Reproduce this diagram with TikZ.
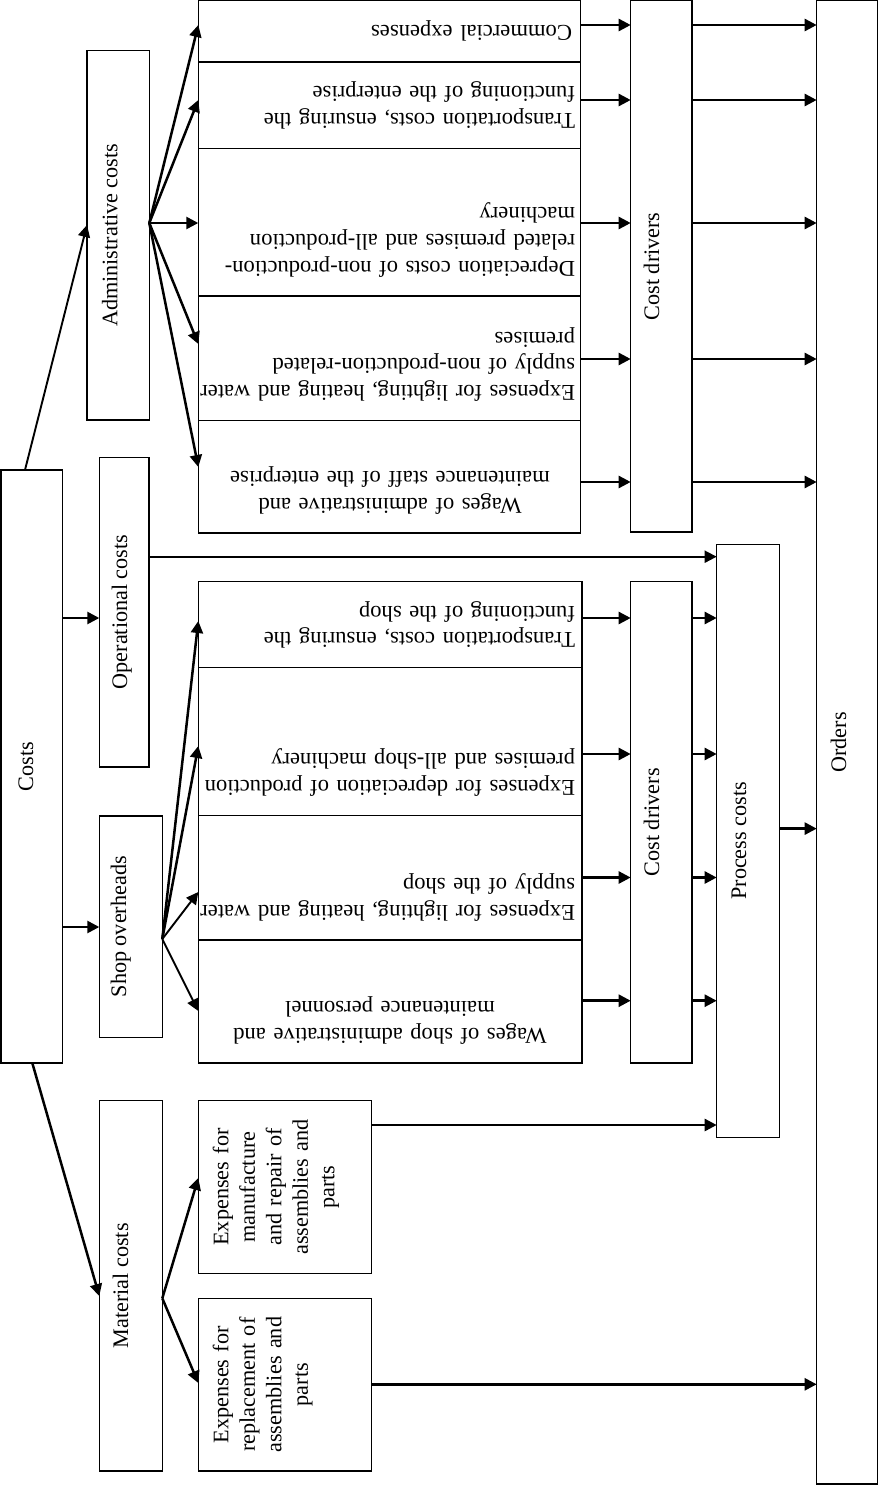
\documentclass[tikz,border=0pt]{standalone}
\usepackage{fontspec}
\setmainfont{Liberation Serif}
\usetikzlibrary{arrows.meta,fit}
\begin{document}
\begin{tikzpicture}[x=1pt,y=-1pt,
  box/.style={draw, line width=1.4pt, inner sep=0pt, outer sep=0pt},
  arr/.style={line width=2.5pt, -{Triangle[length=12pt,width=12pt]}},
  tarr/.style={line width=1.9pt, -{Triangle[length=12pt,width=12pt]}},
  lbl/.style={font=\fontsize{22.2}{26.5}\selectfont, rotate=90, anchor=base, inner sep=0pt},
  vtxt/.style={font=\fontsize{22.2}{26.5}\selectfont, rotate=90, anchor=base, inner sep=0pt, text width=170pt, align=center},
  utxt/.style={font=\fontsize{22.6}{26.7}\selectfont, rotate=180, anchor=base, inner sep=0pt, text width=400pt, align=left},
  ctxt/.style={font=\fontsize{22.6}{26.7}\selectfont, rotate=180, anchor=base, inner sep=0pt, text width=380pt, align=center}
]
\useasboundingbox (0,0) rectangle (879,1485);

% ---- boxes ----
\node[box, fit={(198.3,0.8) (580.7,62)}] (com) {};
\node[box, fit={(198.3,62) (580.7,148.5)}] (tre) {};
\node[box, fit={(198.3,148.5) (580.7,296)}] (dep) {};
\node[box, fit={(198.3,296) (580.7,420.5)}] (lig) {};
\node[box, fit={(198.3,420.5) (580.7,533)}] (wag) {};
\node[box, fit={(630.7,0.8) (692,532)}] (cda) {};
\node[box, fit={(816.7,0.8) (877.7,1484)}] (ord) {};
\node[box, fit={(87,50.6) (149.3,420)}] (adm) {};
\node[box, fit={(99.3,457.3) (149,767)}] (opc) {};
\node[box, fit={(0.8,470) (62.3,1063)}] (cst) {};
\node[box, fit={(99.3,816) (162.3,1037.5)}] (sho) {};
\node[box, fit={(198.3,581.7) (582,667.7)}] (tsh) {};
\node[box, fit={(198.3,667.7) (582,815.5)}] (dsh) {};
\node[box, fit={(198.3,815.5) (582,940)}] (lsh) {};
\node[box, fit={(198.3,940) (582,1063)}] (wsh) {};
\node[box, fit={(630.7,581.7) (692,1063)}] (cdb) {};
\node[box, fit={(716.7,544.3) (779.3,1137.3)}] (prc) {};
\node[box, fit={(99.3,1100.7) (162.3,1471)}] (mat) {};
\node[box, fit={(198.3,1100.7) (371.7,1273.3)}] (mfg) {};
\node[box, fit={(198.3,1298.3) (371.7,1471)}] (rep) {};

% ---- vertical labels ----
\node[lbl] (cstT) at (33,766.5) {Costs};
\node[lbl] (admT) at (117.3,235.3) {Administrative costs};
\node[lbl] (opcT) at (127,612) {Operational costs};
\node[lbl] (shoT) at (126,926.7) {Shop overheads};
\node[lbl] (matT) at (128,1285.9) {Material costs};
\node[lbl] (cdaT) at (659,266.4) {Cost drivers};
\node[lbl] (cdbT) at (659,822.3) {Cost drivers};
\node[lbl] (prcT) at (746,840.8) {Process costs};
\node[lbl] (ordT) at (846,742.4) {Orders};

\node[vtxt] (mfgT) at (228.3,1187) {Expenses for\\ manufacture\\ and repair of\\ assemblies and\\ parts};
\node[vtxt] (repT) at (228.3,1384.7) {Expenses for\\ replacement of\\ assemblies and\\ parts};

% ---- upside-down texts ----
\node[utxt] (comT) at (372,26) {Commercial expenses};
\node[utxt] (treT) at (375,113.5) {Transportation costs, ensuring the\\ functioning of the enterprise};
\node[utxt] (depT) at (375,261) {Depreciation costs of non-production-\\ related premises and all-production\\ machinery};
\node[utxt] (ligT) at (375,385.5) {Expenses for lighting, heating and water\\ supply of non-production-related\\ premises};
\node[ctxt] (wagT) at (390,498) {Wages of administrative and\\ maintenance staff of the enterprise};
\node[utxt] (tshT) at (375,632.7) {Transportation costs, ensuring the\\ functioning of the shop};
\node[utxt] (dshT) at (375,780.5) {Expenses for depreciation of production\\ premises and all-shop machinery};
\node[utxt] (lshT) at (375,905) {Expenses for lighting, heating and water\\ supply of the shop};
\node[ctxt] (wshT) at (390,1028) {Wages of shop administrative and\\ maintenance personnel};

% ---- connectors from Costs ----
\draw[tarr] (25,0 |- cst.north) -- (adm.west |- 0,225);
\draw[arr] (cst.east |- 0,618) -- (opc.west |- 0,618);
\draw[arr] (cst.east |- 0,927) -- (sho.west |- 0,927);
\draw[arr] (32.3,0 |- cst.south) -- (mat.west |- 0,1296);

% ---- administrative fan ----
\draw[arr] (adm.east |- 0,223) -- (com.west |- 0,25);
\draw[arr] (adm.east |- 0,223) -- (tre.west |- 0,100);
\draw[arr] (adm.east |- 0,223) -- (dep.west |- 0,223);
\draw[arr] (adm.east |- 0,223) -- (lig.west |- 0,344);
\draw[arr] (adm.east |- 0,223) -- (wag.west |- 0,467);

\draw[arr] (com.east |- 0,25) -- (cda.west |- 0,25);
\draw[arr] (tre.east |- 0,100) -- (cda.west |- 0,100);
\draw[arr] (dep.east |- 0,223) -- (cda.west |- 0,223);
\draw[arr] (lig.east |- 0,359) -- (cda.west |- 0,359);
\draw[arr] (wag.east |- 0,482) -- (cda.west |- 0,482);

\draw[arr] (cda.east |- 0,25) -- (ord.west |- 0,25);
\draw[arr] (cda.east |- 0,100) -- (ord.west |- 0,100);
\draw[arr] (cda.east |- 0,223) -- (ord.west |- 0,223);
\draw[arr] (cda.east |- 0,359) -- (ord.west |- 0,359);
\draw[arr] (cda.east |- 0,482) -- (ord.west |- 0,482);

% ---- operational ----
\draw[tarr] (opc.east |- 0,556.7) -- (prc.west |- 0,556.7);

% ---- shop fan ----
\draw[arr] (sho.east |- 0,939) -- (tsh.west |- 0,621);
\draw[arr] (sho.east |- 0,939) -- (dsh.west |- 0,746);
\draw[tarr] (sho.east |- 0,939) -- (lsh.west |- 0,892);
\draw[tarr] (sho.east |- 0,939) -- (wsh.west |- 0,1011);

\draw[arr] (tsh.east |- 0,618) -- (cdb.west |- 0,618);
\draw[arr] (dsh.east |- 0,754) -- (cdb.west |- 0,754);
\draw[arr] (lsh.east |- 0,877.5) -- (cdb.west |- 0,877.5);
\draw[arr] (wsh.east |- 0,1000.7) -- (cdb.west |- 0,1000.7);

\draw[arr] (cdb.east |- 0,618) -- (prc.west |- 0,618);
\draw[arr] (cdb.east |- 0,754) -- (prc.west |- 0,754);
\draw[arr] (cdb.east |- 0,877.5) -- (prc.west |- 0,877.5);
\draw[arr] (cdb.east |- 0,1000.7) -- (prc.west |- 0,1000.7);

\draw[arr] (prc.east |- 0,828.6) -- (ord.west |- 0,828.6);

% ---- material ----
\draw[arr] (mat.east |- 0,1298.3) -- (mfg.west |- 0,1178);
\draw[arr] (mat.east |- 0,1298.3) -- (rep.west |- 0,1383);
\draw[arr] (mfg.east |- 0,1125) -- (prc.west |- 0,1125);
\draw[arr] (rep.east |- 0,1384.3) -- (ord.west |- 0,1384.3);
\end{tikzpicture}
\end{document}
